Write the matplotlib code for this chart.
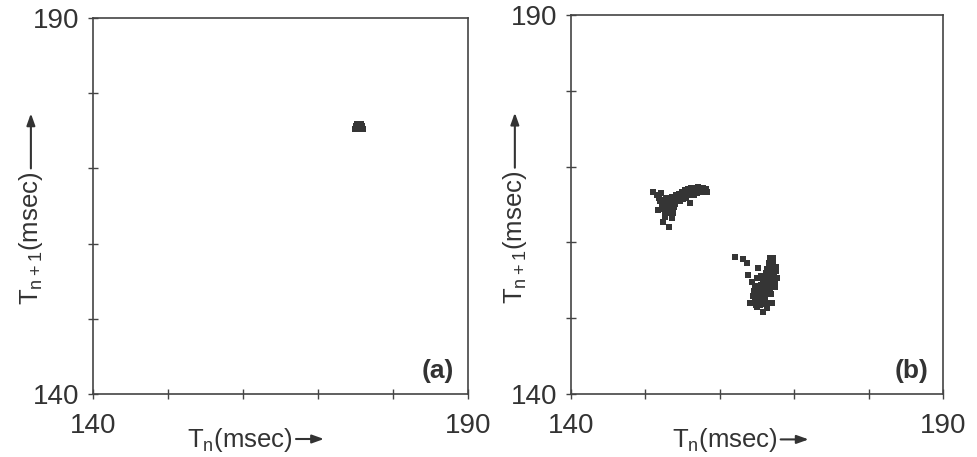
import matplotlib
matplotlib.use("Agg")
import matplotlib.pyplot as plt

# --------------------------------------------------
# DATOS
# --------------------------------------------------
# Panel (a): un único punto fijo sobre la diagonal
tn_a = [175.0, 175.2, 175.4, 175.6, 175.8, 176.0,
        175.1, 175.3, 175.5, 175.7, 175.9,
        175.2, 175.5, 175.8]
tn1_a = [175.3, 175.3, 175.3, 175.3, 175.3, 175.3,
         175.6, 175.6, 175.6, 175.6, 175.6,
         175.85, 175.85, 175.85]

# Panel (b): ciclo de periodo 2, grupo superior izquierdo
tn_b1 = [151.9, 152.2, 152.3, 152.5, 152.6, 152.8, 152.9, 153.0, 153.1, 153.2,
         153.3, 153.4, 153.5, 153.6, 153.7, 153.8, 153.9, 154.0, 154.1, 154.2,
         154.4, 154.5, 154.6, 154.8, 154.9, 155.0, 155.2, 155.3, 155.4, 155.6,
         155.7, 155.8, 156.0, 156.1, 156.2, 156.4,
         156.6, 156.7, 156.9, 157.1, 157.2, 157.4, 157.6, 157.7, 157.9, 158.1,
         158.3, 156.5, 157.0, 152.4, 153.0, 153.5, 154.3, 155.1, 152.7, 153.3,
         151.0, 151.6, 152.1, 151.7, 152.4, 153.2, 153.6, 153.7, 156.0, 152.9,
         152.7, 151.8]
tn1_b1 = [165.4, 164.9, 165.6, 164.4, 165.2, 165.8, 164.7, 165.3, 164.2, 165.9,
          164.9, 165.5, 164.5, 166.0, 165.2, 164.7, 165.7, 165.1, 166.2, 165.5,
          165.9, 166.4, 165.4, 166.1, 166.7, 165.7, 166.3, 166.9, 165.9, 166.5,
          167.1, 166.2, 166.7, 167.2, 166.4, 166.9,
          167.2, 166.6, 167.0, 167.3, 166.6, 167.0, 166.8, 167.2, 166.7, 167.0,
          166.7, 166.3, 166.5, 165.0, 164.5, 165.0, 165.5, 166.0, 164.0, 164.2,
          166.6, 166.3, 166.5, 164.3, 162.7, 162.0, 163.2, 163.9, 165.2, 163.9,
          163.4, 165.8]

# Panel (b): grupo inferior derecho
tn_b2 = [166.8, 167.1, 166.6, 167.2, 166.7, 167.0, 166.4, 167.3, 166.2, 166.8,
         166.0, 166.6, 167.1, 165.8, 166.3, 166.9, 165.6, 166.1, 165.3, 166.5,
         165.8, 165.1, 166.2, 165.5, 164.9, 165.9, 165.2, 164.7, 165.6, 166.1,
         165.0, 165.4, 164.6, 166.7, 167.3, 167.2,
         167.5, 167.4, 165.5, 164.8, 164.5, 166.4, 165.9, 164.9, 166.9, 167.6,
         162.0, 163.1, 163.7, 165.1, 165.0, 163.8, 167.7, 167.4, 164.1, 165.8,
         167.0, 165.0, 164.3, 166.4]
tn1_b2 = [158.0, 157.6, 157.3, 157.0, 156.7, 156.3, 156.5, 156.0, 155.9, 155.7,
          155.4, 155.2, 155.0, 154.9, 154.7, 154.5, 154.4, 154.1, 154.0, 153.9,
          153.6, 153.5, 153.3, 153.1, 153.0, 152.8, 152.6, 152.4, 152.3, 152.5,
          152.1, 151.8, 153.6, 154.0, 155.6, 157.9,
          156.8, 154.8, 155.6, 154.3, 152.9, 152.0, 151.9, 151.8, 153.2, 156.2,
          158.1, 157.8, 157.3, 156.6, 155.3, 155.7, 155.3, 154.1, 152.0, 150.8,
          152.0, 151.5, 154.8, 151.4]

lim = (140, 190)
ticks = [140, 150, 160, 170, 180, 190]
tick_labels = ["140", "", "", "", "", "190"]

# --------------------------------------------------
# ESTILO GENERAL
# --------------------------------------------------
plt.rcParams["font.family"] = ["Liberation Sans", "DejaVu Sans"]
plt.rcParams["mathtext.fontset"] = "custom"
plt.rcParams["mathtext.rm"] = "Liberation Sans"

fig = plt.figure(figsize=(9.77, 4.57), dpi=100)
ax_a = fig.add_axes([0.0952, 0.1379, 0.3838, 0.8228])
ax_b = fig.add_axes([0.5844, 0.1379, 0.3808, 0.8293])

ink = "#353535"
txt = "#333333"
lbl_size = 18.5


def style_axes(ax, tag, xl_x, yl_y, yl_x):
    """Aplica límites, ticks y etiquetas comunes a cada panel."""
    ax.set_xlim(lim)
    ax.set_ylim(lim)
    ax.set_xticks(ticks)
    ax.set_yticks(ticks)
    ax.set_xticklabels(tick_labels, fontsize=20)
    ax.set_yticklabels(tick_labels, fontsize=20)
    ax.tick_params(axis="x", direction="inout", length=7, width=1,
                   color="#444444", pad=10, labelcolor=txt)
    ax.tick_params(axis="y", direction="inout", length=7, width=1,
                   color="#444444", pad=6, labelcolor=txt)
    for s in ax.spines.values():
        s.set_color("#444444")
        s.set_linewidth(1.2)

    # Etiquetas de ejes colocadas a mano (línea base)
    xl = ax.text(xl_x, -0.141, "T$_\\mathregular{n}$(msec)",
                 transform=ax.transAxes, ha="left", va="baseline",
                 fontsize=lbl_size, color=txt)
    yl = ax.text(yl_x, yl_y, "T$_\\mathregular{n+1}$(msec)",
                 transform=ax.transAxes, ha="left", va="baseline",
                 rotation=90, rotation_mode="anchor",
                 fontsize=lbl_size, color=txt)

    ax.text(0.962, 0.03, tag, transform=ax.transAxes, ha="right",
            va="bottom", fontsize=19, fontweight="bold", color=txt)
    return xl, yl, (xl_x, -0.141), (yl_x, yl_y)


# --------------------------------------------------
# PANEL (a)
# --------------------------------------------------
ax_a.scatter(tn_a, tn1_a, marker="s", s=13, color=ink, linewidths=0)
lab_a = style_axes(ax_a, "(a)", 0.251, 0.237, -0.147)

# --------------------------------------------------
# PANEL (b)
# --------------------------------------------------
ax_b.scatter(tn_b1, tn1_b1, marker="s", s=13, color=ink, linewidths=0)
ax_b.scatter(tn_b2, tn1_b2, marker="s", s=13, color=ink, linewidths=0)
lab_b = style_axes(ax_b, "(b)", 0.271, 0.237, -0.132)

# --------------------------------------------------
# FLECHAS DE LAS ETIQUETAS
# --------------------------------------------------
fig.canvas.draw()
renderer = fig.canvas.get_renderer()
arrow_props = dict(arrowstyle="-|>,head_length=0.7,head_width=0.25",
                   color=txt, lw=1.5, shrinkA=0, shrinkB=0)

for ax, (xl, yl, xpos, ypos) in ((ax_a, lab_a), (ax_b, lab_b)):
    bx = xl.get_window_extent(renderer)
    base_x = ax.transAxes.transform(xpos)
    x0 = bx.x1 + 3
    yv = base_x[1] + 8
    ax.annotate("", xy=(x0 + 28, yv), xytext=(x0, yv),
                xycoords="figure pixels", textcoords="figure pixels",
                arrowprops=arrow_props, annotation_clip=False)

    by = yl.get_window_extent(renderer)
    base_y = ax.transAxes.transform(ypos)
    y0 = by.y1 + 3
    xv = base_y[0] - 7
    ax.annotate("", xy=(xv, y0 + 55), xytext=(xv, y0),
                xycoords="figure pixels", textcoords="figure pixels",
                arrowprops=arrow_props, annotation_clip=False)

fig.savefig("out.png", dpi=100)
